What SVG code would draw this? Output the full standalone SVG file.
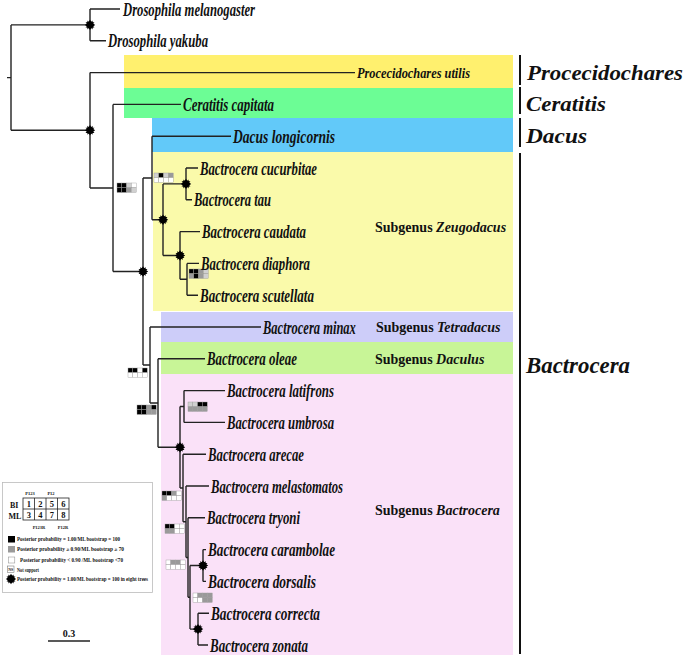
<svg xmlns="http://www.w3.org/2000/svg" xmlns:xlink="http://www.w3.org/1999/xlink" width="685" height="658" viewBox="0 0 685 658">
<style>
.sp{font-family:"Liberation Serif","Times New Roman",serif;font-style:italic;font-weight:bold;font-size:19.5px;fill:#111}
.gen{font-family:"Liberation Serif","Times New Roman",serif;font-style:italic;font-weight:bold;font-size:22px;fill:#111}
.sub{font-family:"Liberation Serif","Times New Roman",serif;font-weight:bold;font-size:14px;fill:#111}
.it{font-style:italic}
.br{fill:none;stroke:#222;stroke-width:1.4}
.bar{stroke:#111;stroke-width:2}
.cell{stroke:#999;stroke-width:0.4}
.K{fill:#000}.G{fill:#9a9a9a}.L{fill:#d0d0d0}.W{fill:#fff}
.lg{font-family:"Liberation Serif","Times New Roman",serif;font-weight:bold;font-size:5.5px;fill:#111}
.num{font-family:"Liberation Serif","Times New Roman",serif;font-weight:bold;font-size:8.5px;fill:#111;text-anchor:middle}
</style>
<defs>
<g id="star">
<polygon points="5.2,0 3.2,1.3 4.5,2.6 2.6,2.6 2.6,4.5 1.3,3.2 0,5.2 -1.3,3.2 -2.6,4.5 -2.6,2.6 -4.5,2.6 -3.2,1.3 -5.2,0 -3.2,-1.3 -4.5,-2.6 -2.6,-2.6 -2.6,-4.5 -1.3,-3.2 0,-5.2 1.3,-3.2 2.6,-4.5 2.6,-2.6 4.5,-2.6 3.2,-1.3" fill="#000"/>
<circle r="3.4" fill="#000"/>
</g>
</defs>
<rect width="685" height="658" fill="#fff"/>

<!-- bands -->
<g id="bands">
<rect x="124" y="55" width="389" height="33" fill="#FFF06E"/>
<rect x="124" y="88" width="389" height="30" fill="#6CFD95"/>
<rect x="152" y="118" width="361" height="34" fill="#62C9F9"/>
<rect x="153" y="152" width="360" height="159" fill="#FAFAAA"/>
<rect x="161" y="312" width="352" height="30" fill="#CDCDF9"/>
<rect x="161" y="342" width="352" height="32" fill="#C8F597"/>
<rect x="161" y="374" width="352" height="281" fill="#FAE1F8"/>
</g>

<!-- connectors -->
<g id="connectors" class="br">
<path d="M7,77.6H11M11,24.9V130.3M11,24.9H90M11,130.3H90"/>
<path d="M90,9V40.8M90,9H120M90,40.8H106"/>
<path d="M90,72.6V188M90,72.6H355M90,188H113"/>
<path d="M113,104.4V271.5M113,104.4H181M113,271.5H143"/>
<path d="M143,178V365M143,178H152M143,365H150"/>
<path d="M152,136.2V219.7M152,136.2H231M152,219.7H163"/>
<path d="M163,183.9V255.5M163,183.9H186M163,255.5H180"/>
<path d="M186,168V199.8M186,168H198M186,199.8H192"/>
<path d="M180,231.6V279.3M180,231.6H200M180,279.3H187"/>
<path d="M187,263.4V295.2M187,263.4H199M187,295.2H198"/>
<path d="M150,327V403M150,327H261M150,403H158"/>
<path d="M158,358.8V447.3M158,358.8H205M158,447.3H180"/>
<path d="M180,406.5V488M180,406.5H184M180,488H183"/>
<path d="M184,390.6V422.4M184,390.6H225M184,422.4H225"/>
<path d="M183,454.2V521.8M183,454.2H206M183,521.8H186"/>
<path d="M186,486V557.5M186,486H209M186,557.5H188"/>
<path d="M188,517.8V597.3M188,517.8H205M188,597.3H190"/>
<path d="M190,565.5V629.1M190,565.5H203M190,629.1H198"/>
<path d="M203,549.6V581.4M203,549.6H206M203,581.4H206"/>
<path d="M198,613.2V645M198,613.2H209M198,645H208"/>
</g>

<!-- node stars -->
<g id="stars">
<use xlink:href="#star" x="90" y="24.9"/>
<use xlink:href="#star" x="90" y="130.3"/>
<use xlink:href="#star" x="186" y="183.9"/>
<use xlink:href="#star" x="163" y="219.7"/>
<use xlink:href="#star" x="180" y="255.5"/>
<use xlink:href="#star" x="143" y="271.5"/>
<use xlink:href="#star" x="180" y="447.3"/>
<use xlink:href="#star" x="203" y="565.5"/>
<use xlink:href="#star" x="198" y="629.1"/>
</g>

<!-- support boxes -->
<g id="support">
<g transform="translate(117,183)"><rect class="cell K" x="0" y="0" width="4.8" height="4.7"/><rect class="cell K" x="4.8" y="0" width="4.8" height="4.7"/><rect class="cell L" x="9.6" y="0" width="4.8" height="4.7"/><rect class="cell W" x="14.4" y="0" width="4.8" height="4.7"/><rect class="cell K" x="0" y="4.7" width="4.8" height="4.7"/><rect class="cell K" x="4.8" y="4.7" width="4.8" height="4.7"/><rect class="cell G" x="9.6" y="4.7" width="4.8" height="4.7"/><rect class="cell L" x="14.4" y="4.7" width="4.8" height="4.7"/></g>
<g transform="translate(154,173)"><rect class="cell L" x="0" y="0" width="4.8" height="4.7"/><rect class="cell K" x="4.8" y="0" width="4.8" height="4.7"/><rect class="cell L" x="9.6" y="0" width="4.8" height="4.7"/><rect class="cell G" x="14.4" y="0" width="4.8" height="4.7"/><rect class="cell W" x="0" y="4.7" width="4.8" height="4.7"/><rect class="cell W" x="4.8" y="4.7" width="4.8" height="4.7"/><rect class="cell W" x="9.6" y="4.7" width="4.8" height="4.7"/><rect class="cell W" x="14.4" y="4.7" width="4.8" height="4.7"/></g>
<g transform="translate(189,269)"><rect class="cell K" x="0" y="0" width="4.8" height="4.7"/><rect class="cell K" x="4.8" y="0" width="4.8" height="4.7"/><rect class="cell G" x="9.6" y="0" width="4.8" height="4.7"/><rect class="cell L" x="14.4" y="0" width="4.8" height="4.7"/><rect class="cell G" x="0" y="4.7" width="4.8" height="4.7"/><rect class="cell K" x="4.8" y="4.7" width="4.8" height="4.7"/><rect class="cell G" x="9.6" y="4.7" width="4.8" height="4.7"/><rect class="cell L" x="14.4" y="4.7" width="4.8" height="4.7"/></g>
<g transform="translate(128,368)"><rect class="cell K" x="0" y="0" width="4.8" height="4.7"/><rect class="cell K" x="4.8" y="0" width="4.8" height="4.7"/><rect class="cell W" x="9.6" y="0" width="4.8" height="4.7"/><rect class="cell K" x="14.4" y="0" width="4.8" height="4.7"/><rect class="cell W" x="0" y="4.7" width="4.8" height="4.7"/><rect class="cell W" x="4.8" y="4.7" width="4.8" height="4.7"/><rect class="cell W" x="9.6" y="4.7" width="4.8" height="4.7"/><rect class="cell W" x="14.4" y="4.7" width="4.8" height="4.7"/></g>
<g transform="translate(137,405)"><rect class="cell K" x="0" y="0" width="4.8" height="4.7"/><rect class="cell K" x="4.8" y="0" width="4.8" height="4.7"/><rect class="cell G" x="9.6" y="0" width="4.8" height="4.7"/><rect class="cell K" x="14.4" y="0" width="4.8" height="4.7"/><rect class="cell K" x="0" y="4.7" width="4.8" height="4.7"/><rect class="cell K" x="4.8" y="4.7" width="4.8" height="4.7"/><rect class="cell G" x="9.6" y="4.7" width="4.8" height="4.7"/><rect class="cell G" x="14.4" y="4.7" width="4.8" height="4.7"/></g>
<g transform="translate(188,402)"><rect class="cell L" x="0" y="0" width="4.8" height="4.7"/><rect class="cell L" x="4.8" y="0" width="4.8" height="4.7"/><rect class="cell K" x="9.6" y="0" width="4.8" height="4.7"/><rect class="cell K" x="14.4" y="0" width="4.8" height="4.7"/><rect class="cell G" x="0" y="4.7" width="4.8" height="4.7"/><rect class="cell G" x="4.8" y="4.7" width="4.8" height="4.7"/><rect class="cell G" x="9.6" y="4.7" width="4.8" height="4.7"/><rect class="cell G" x="14.4" y="4.7" width="4.8" height="4.7"/></g>
<g transform="translate(162,491)"><rect class="cell K" x="0" y="0" width="4.8" height="4.7"/><rect class="cell K" x="4.8" y="0" width="4.8" height="4.7"/><rect class="cell G" x="9.6" y="0" width="4.8" height="4.7"/><rect class="cell W" x="14.4" y="0" width="4.8" height="4.7"/><rect class="cell G" x="0" y="4.7" width="4.8" height="4.7"/><rect class="cell W" x="4.8" y="4.7" width="4.8" height="4.7"/><rect class="cell W" x="9.6" y="4.7" width="4.8" height="4.7"/><rect class="cell W" x="14.4" y="4.7" width="4.8" height="4.7"/></g>
<g transform="translate(165,524)"><rect class="cell K" x="0" y="0" width="4.8" height="4.7"/><rect class="cell K" x="4.8" y="0" width="4.8" height="4.7"/><rect class="cell W" x="9.6" y="0" width="4.8" height="4.7"/><rect class="cell W" x="14.4" y="0" width="4.8" height="4.7"/><rect class="cell G" x="0" y="4.7" width="4.8" height="4.7"/><rect class="cell G" x="4.8" y="4.7" width="4.8" height="4.7"/><rect class="cell W" x="9.6" y="4.7" width="4.8" height="4.7"/><rect class="cell W" x="14.4" y="4.7" width="4.8" height="4.7"/></g>
<g transform="translate(166,560)"><rect class="cell W" x="0" y="0" width="4.8" height="4.7"/><rect class="cell G" x="4.8" y="0" width="4.8" height="4.7"/><rect class="cell G" x="9.6" y="0" width="4.8" height="4.7"/><rect class="cell W" x="14.4" y="0" width="4.8" height="4.7"/><rect class="cell W" x="0" y="4.7" width="4.8" height="4.7"/><rect class="cell W" x="4.8" y="4.7" width="4.8" height="4.7"/><rect class="cell W" x="9.6" y="4.7" width="4.8" height="4.7"/><rect class="cell W" x="14.4" y="4.7" width="4.8" height="4.7"/></g>
<g transform="translate(193,593)"><rect class="cell W" x="0" y="0" width="4.8" height="4.7"/><rect class="cell G" x="4.8" y="0" width="4.8" height="4.7"/><rect class="cell G" x="9.6" y="0" width="4.8" height="4.7"/><rect class="cell G" x="14.4" y="0" width="4.8" height="4.7"/><rect class="cell W" x="0" y="4.7" width="4.8" height="4.7"/><rect class="cell W" x="4.8" y="4.7" width="4.8" height="4.7"/><rect class="cell G" x="9.6" y="4.7" width="4.8" height="4.7"/><rect class="cell G" x="14.4" y="4.7" width="4.8" height="4.7"/></g>
</g>

<!-- taxa -->
<g id="t-dmel"><text class="sp" x="123" y="15.5" textLength="132" lengthAdjust="spacingAndGlyphs">Drosophila melanogaster</text></g>
<g id="t-dyak"><text class="sp" x="108" y="47.3" textLength="100" lengthAdjust="spacingAndGlyphs">Drosophila yakuba</text></g>
<g id="t-putil"><text class="sp" x="357" y="78" style="font-size:15.5px" textLength="113" lengthAdjust="spacingAndGlyphs">Procecidochares utilis</text></g>
<g id="t-ccap"><text class="sp" x="183" y="110.9" textLength="91" lengthAdjust="spacingAndGlyphs">Ceratitis capitata</text></g>
<g id="t-dlon"><text class="sp" x="233" y="142.7" textLength="102" lengthAdjust="spacingAndGlyphs">Dacus longicornis</text></g>
<g id="t-bcuc"><text class="sp" x="200" y="174.5" textLength="117" lengthAdjust="spacingAndGlyphs">Bactrocera cucurbitae</text></g>
<g id="t-btau"><text class="sp" x="194" y="206.3" textLength="77" lengthAdjust="spacingAndGlyphs">Bactrocera tau</text></g>
<g id="t-bcau"><text class="sp" x="202" y="238.1" textLength="104" lengthAdjust="spacingAndGlyphs">Bactrocera caudata</text></g>
<g id="t-bdia"><text class="sp" x="201" y="269.9" textLength="109" lengthAdjust="spacingAndGlyphs">Bactrocera diaphora</text></g>
<g id="t-bscu"><text class="sp" x="200" y="301.7" textLength="114" lengthAdjust="spacingAndGlyphs">Bactrocera scutellata</text></g>
<g id="t-bmin"><text class="sp" transform="translate(263,333.5) scale(0.645,1)" x="0" y="0" textLength="144" lengthAdjust="spacingAndGlyphs">Bactrocera minax</text></g>
<g id="t-bole"><text class="sp" x="207" y="365.3" textLength="90" lengthAdjust="spacingAndGlyphs">Bactrocera oleae</text></g>
<g id="t-blat"><text class="sp" x="227" y="397.1" textLength="107" lengthAdjust="spacingAndGlyphs">Bactrocera latifrons</text></g>
<g id="t-bumb"><text class="sp" x="227" y="428.9" textLength="107" lengthAdjust="spacingAndGlyphs">Bactrocera umbrosa</text></g>
<g id="t-bare"><text class="sp" x="208" y="460.7" textLength="96" lengthAdjust="spacingAndGlyphs">Bactrocera arecae</text></g>
<g id="t-bmel"><text class="sp" x="211" y="492.5" textLength="132" lengthAdjust="spacingAndGlyphs">Bactrocera melastomatos</text></g>
<g id="t-btry"><text class="sp" x="207" y="524.3" textLength="93" lengthAdjust="spacingAndGlyphs">Bactrocera tryoni</text></g>
<g id="t-bcar"><text class="sp" x="208" y="556.1" textLength="127" lengthAdjust="spacingAndGlyphs">Bactrocera carambolae</text></g>
<g id="t-bdor"><text class="sp" x="208" y="587.9" textLength="108" lengthAdjust="spacingAndGlyphs">Bactrocera dorsalis</text></g>
<g id="t-bcor"><text class="sp" x="211" y="619.7" textLength="109" lengthAdjust="spacingAndGlyphs">Bactrocera correcta</text></g>
<g id="t-bzon"><text class="sp" x="210" y="651.5" textLength="98" lengthAdjust="spacingAndGlyphs">Bactrocera zonata</text></g>

<!-- subgenus labels -->
<g id="sg-zeug"><text class="sub" x="375" y="232">Subgenus <tspan class="it">Zeugodacus</tspan></text></g>
<g id="sg-tetr"><text class="sub" x="376" y="332">Subgenus <tspan class="it">Tetradacus</tspan></text></g>
<g id="sg-dacu"><text class="sub" x="375" y="363.5">Subgenus <tspan class="it">Daculus</tspan></text></g>
<g id="sg-bact"><text class="sub" x="375" y="515">Subgenus <tspan class="it">Bactrocera</tspan></text></g>

<!-- genus brackets -->
<g id="g-proc"><line class="bar" x1="520" y1="55" x2="520" y2="85"/><text class="gen" x="527" y="80" textLength="156" lengthAdjust="spacingAndGlyphs">Procecidochares</text></g>
<g id="g-cera"><line class="bar" x1="520" y1="87" x2="520" y2="114"/><text class="gen" x="526" y="111" textLength="80" lengthAdjust="spacingAndGlyphs">Ceratitis</text></g>
<g id="g-dacus"><line class="bar" x1="520" y1="118" x2="520" y2="147"/><text class="gen" x="526" y="143" textLength="61" lengthAdjust="spacingAndGlyphs">Dacus</text></g>
<g id="g-bact"><line class="bar" x1="520" y1="153" x2="520" y2="654"/><text class="gen" x="526" y="373" style="font-size:23px" textLength="104" lengthAdjust="spacingAndGlyphs">Bactrocera</text></g>

<!-- legend -->
<g id="legend">
<rect x="2.5" y="482.5" width="150" height="110" fill="#fff" stroke="#bbb" stroke-width="0.8"/>
<text class="lg" x="30" y="495" text-anchor="middle" style="font-size:4.5px">P123</text>
<text class="lg" x="51" y="495" text-anchor="middle" style="font-size:4.5px">P12</text>
<text class="lg" x="10" y="507.5" style="font-size:8px">BI</text>
<text class="lg" x="8.5" y="518.5" style="font-size:8px">ML</text>
<g fill="none" stroke="#222" stroke-width="0.8">
<rect x="23" y="498" width="46" height="22"/>
<path d="M34.5,498V520M46,498V520M57.5,498V520M23,509H69"/>
</g>
<text class="num" x="28.75" y="506.8">1</text><text class="num" x="40.25" y="506.8">2</text><text class="num" x="51.75" y="506.8">5</text><text class="num" x="63.25" y="506.8">6</text>
<text class="num" x="28.75" y="517.8">3</text><text class="num" x="40.25" y="517.8">4</text><text class="num" x="51.75" y="517.8">7</text><text class="num" x="63.25" y="517.8">8</text>
<text class="lg" x="39" y="528.5" text-anchor="middle" style="font-size:4.5px">P123R</text>
<text class="lg" x="63" y="528.5" text-anchor="middle" style="font-size:4.5px">P12R</text>
<rect x="8" y="536" width="7" height="6.5" fill="#000"/>
<text class="lg" x="17" y="541.3" textLength="103" lengthAdjust="spacingAndGlyphs">Posterior probability = 1.00/ML bootstrap = 100</text>
<rect x="8" y="546" width="7" height="6.5" fill="#9a9a9a"/>
<text class="lg" x="17" y="551.3" textLength="107" lengthAdjust="spacingAndGlyphs">Posterior probability ≥ 0.90/ML bootstrap ≥ 70</text>
<rect x="8.3" y="557" width="6.5" height="6" fill="#fff" stroke="#888" stroke-width="0.5"/>
<text class="lg" x="20" y="562.3" textLength="103" lengthAdjust="spacingAndGlyphs">Posterior probability &lt; 0.90 /ML bootstrap &lt;70</text>
<rect x="7.5" y="566" width="6.5" height="6.5" fill="#fff" stroke="#666" stroke-width="0.5"/>
<text class="lg" x="10.75" y="571" text-anchor="middle" style="font-size:4px">NS</text>
<text class="lg" x="17" y="571.5" textLength="22" lengthAdjust="spacingAndGlyphs">Not support</text>
<use xlink:href="#star" x="11" y="579"/>
<text class="lg" x="17" y="581.3" textLength="131" lengthAdjust="spacingAndGlyphs">Posterior probability = 1.00/ML bootstrap = 100 in eight trees</text>
</g>

<!-- scale bar -->
<g id="scale">
<line x1="48" y1="641" x2="90" y2="641" stroke="#222" stroke-width="1.3"/>
<text x="69" y="637" text-anchor="middle" style="font-family:'Liberation Serif','Times New Roman',serif;font-weight:bold;font-size:10px;fill:#111">0.3</text>
</g>
</svg>
